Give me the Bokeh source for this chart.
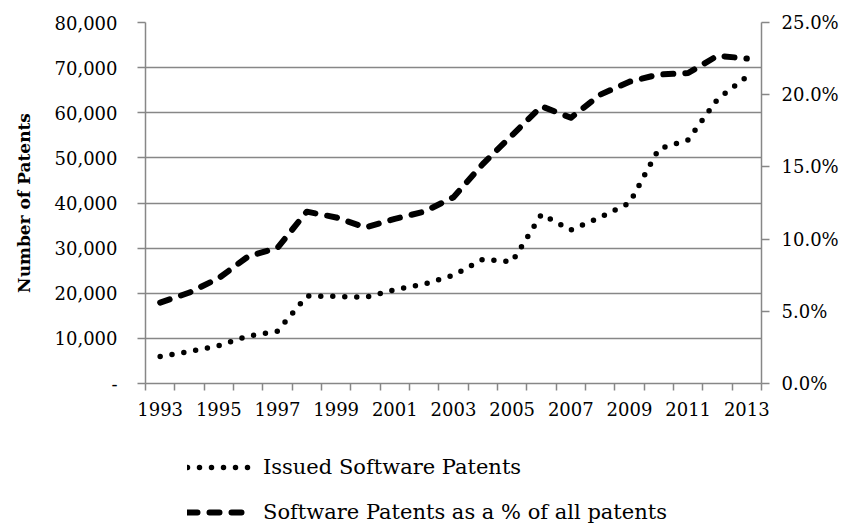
from bokeh.plotting import figure
from bokeh.layouts import column
from bokeh.models import (Range1d, LinearAxis, FixedTicker, NumeralTickFormatter,
                          PrintfTickFormatter, Legend, LegendItem)
from bokeh.embed import file_html
from bokeh.resources import INLINE

years = list(range(1993, 2014))
issued_patents = [6000, 7100, 8400, 10500, 11600, 19400, 19300, 19100, 20800, 22000,
                  24000, 27500, 27000, 37500, 34000, 36800, 40000, 52000, 54000, 63000, 68000]
pct_of_all = [5.6, 6.3, 7.3, 8.8, 9.4, 11.9, 11.5, 10.8, 11.4, 11.9,
              12.9, 15.2, 17.2, 19.2, 18.4, 20.0, 20.9, 21.4, 21.5, 22.7, 22.5]
left_ticks = [0, 10000, 20000, 30000, 40000, 50000, 60000, 70000, 80000]
right_ticks = [0, 5, 10, 15, 20, 25]
year_labels = [1993, 1995, 1997, 1999, 2001, 2003, 2005, 2007, 2009, 2011, 2013]
series_names = ["Issued Software Patents", "Software Patents as a % of all patents"]

FONT = "DejaVu Serif"
GRAY = "#878787"
DOT = dict(line_color="black", line_width=5.5, line_dash="0 12",
           line_cap="round", line_join="round")
DASH = dict(line_color="black", line_width=6, line_dash="10 12",
            line_cap="round", line_join="round")

p = figure(frame_width=616, frame_height=361, output_backend="svg", toolbar_location=None,
           x_range=Range1d(years[0] - 0.5, years[-1] + 0.5), y_range=Range1d(0, 80000),
           min_border_left=145, min_border_right=79, min_border_top=22, min_border_bottom=60)
p.outline_line_color = None
p.background_fill_color = "white"

# x axis
xa = p.xaxis[0]
xa.ticker = FixedTicker(ticks=year_labels,
                        minor_ticks=[y - 0.5 for y in years] + [years[-1] + 0.5])
xa.major_tick_out = 0
xa.major_tick_in = 0
xa.minor_tick_out = 7
xa.minor_tick_in = 0
xa.minor_tick_line_color = GRAY
xa.minor_tick_line_width = 1.5
xa.axis_line_color = GRAY
xa.axis_line_width = 1.5
xa.major_label_standoff = 11
xa.major_label_text_font = FONT
xa.major_label_text_font_size = "18px"
xa.major_label_text_color = "black"

# left axis
ya = p.yaxis[0]
ya.ticker = FixedTicker(ticks=left_ticks)
ya.formatter = NumeralTickFormatter(format="0,0")
ya.major_label_overrides = {0: "-"}
ya.major_tick_out = 8
ya.major_tick_in = 0
ya.minor_tick_out = 0
ya.minor_tick_in = 0
ya.major_tick_line_color = GRAY
ya.major_tick_line_width = 1.5
ya.axis_line_color = GRAY
ya.axis_line_width = 1.5
ya.major_label_standoff = 20
ya.major_label_text_font = FONT
ya.major_label_text_font_size = "18px"
ya.major_label_text_color = "black"
ya.axis_label = "Number of Patents"
ya.axis_label_text_font = FONT
ya.axis_label_text_font_style = "bold"
ya.axis_label_text_font_size = "17px"
ya.axis_label_text_color = "black"
ya.axis_label_standoff = 18

# right axis
p.extra_y_ranges = {"pct": Range1d(0, 25)}
ra = LinearAxis(y_range_name="pct", ticker=FixedTicker(ticks=right_ticks),
                formatter=PrintfTickFormatter(format="%.1f%%"))
ra.major_tick_out = 8
ra.major_tick_in = 0
ra.minor_tick_out = 0
ra.minor_tick_in = 0
ra.major_tick_line_color = GRAY
ra.major_tick_line_width = 1.5
ra.axis_line_color = GRAY
ra.axis_line_width = 1.5
ra.major_label_standoff = 12
ra.major_label_text_font = FONT
ra.major_label_text_font_size = "18px"
ra.major_label_text_color = "black"
p.add_layout(ra, "right")

# grid
p.xgrid.grid_line_color = None
p.ygrid.ticker = FixedTicker(ticks=left_ticks)
p.ygrid.grid_line_color = GRAY
p.ygrid.grid_line_width = 1.5

p.line(years, issued_patents, **DOT)
p.line(years, pct_of_all, y_range_name="pct", **DASH)

# legend strip below the chart (series drawn outside its view, only their legend shows)
leg = figure(width=840, height=84, output_backend="svg", toolbar_location=None,
             x_range=Range1d(0, 1), y_range=Range1d(0, 1),
             x_axis_location=None, y_axis_location=None, min_border=0)
leg.outline_line_color = None
leg.grid.visible = False
l1 = leg.line(years, issued_patents, **DOT)
l2 = leg.line(years, pct_of_all, **DASH)

legend = Legend(items=[LegendItem(label=series_names[0], renderers=[l1]),
                       LegendItem(label=series_names[1], renderers=[l2])],
                location=(42, 3), orientation="vertical")
legend.border_line_color = None
legend.background_fill_alpha = 0
legend.padding = 0
legend.margin = 0
legend.glyph_width = 66
legend.glyph_height = 24
legend.label_height = 24
legend.spacing = 21
legend.label_standoff = 10
legend.label_text_font = FONT
legend.label_text_font_size = "21px"
legend.label_text_color = "black"
leg.add_layout(legend)

layout = column(p, leg, spacing=0)
open("out.html", "w").write(file_html(layout, INLINE))
